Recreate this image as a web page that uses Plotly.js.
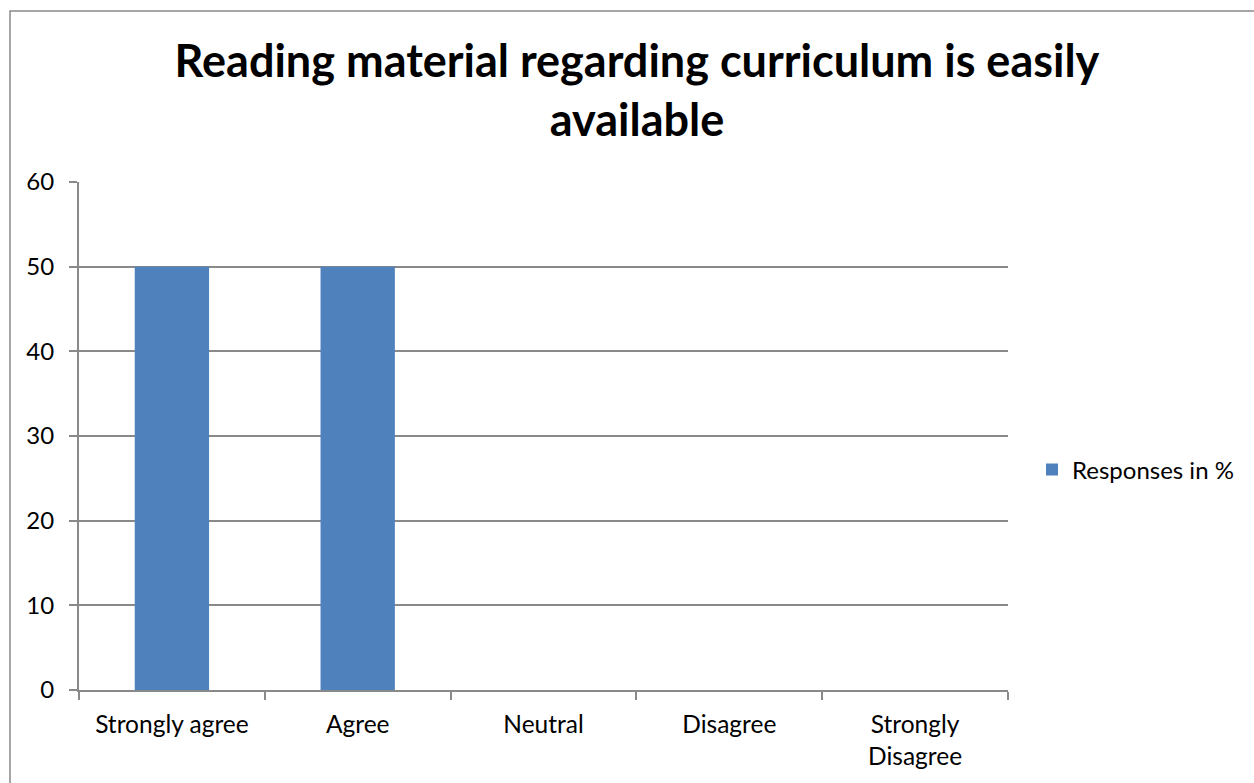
<!DOCTYPE html>
<html>
<head>
<meta charset="utf-8">
<script src="https://cdn.plot.ly/plotly-3.0.1.min.js"></script>
<style>
html,body{margin:0;padding:0;background:#fff;}
#chart{width:1254px;height:783px;}
</style>
</head>
<body>
<div id="chart"></div>
<script>
const categories = ["Strongly agree", "Agree", "Neutral", "Disagree", "Strongly<br>Disagree"];
const responses = [50, 50, 0, 0, 0];
const seriesName = "Responses in %";
const titleText = "Reading material regarding curriculum is easily<br>available";
const yTicks = [0, 10, 20, 30, 40, 50, 60];

const fontFam = "Lato, 'Open Sans', sans-serif";
const L = 79, R = 246, T = 182, B = 93;
const pw = 1254 - L - R, ph = 783 - T - B;
const lineCol = "#898989";

const data = [{
  type: "bar",
  x: categories,
  y: responses,
  name: seriesName,
  marker: {color: "#4F81BD"},
  width: 0.4,
  showlegend: true
}];

const layout = {
  width: 1254, height: 783,
  margin: {l: L, r: R, t: T, b: B, pad: 0},
  paper_bgcolor: "#fff", plot_bgcolor: "#fff",
  font: {family: fontFam, color: "#000", size: 24},
  title: {
    text: "<b>" + titleText + "</b>",
    font: {family: fontFam, size: 45, color: "#000"},
    x: 637/1254, xref: "container", xanchor: "center",
    y: 1 - 77/783, yref: "container", yanchor: "top"
  },
  xaxis: {
    type: "category",
    tickson: "boundaries",
    ticks: "outside", ticklen: 8, tickcolor: lineCol, tickwidth: 2,
    showline: true, linecolor: lineCol, linewidth: 2,
    showgrid: false, zeroline: false,
    tickfont: {size: 24.5, family: fontFam},
    ticklabelstandoff: 12,
    fixedrange: true
  },
  yaxis: {
    range: [0, 60],
    tickvals: yTicks,
    ticks: "outside", ticklen: 8, tickcolor: lineCol, tickwidth: 2,
    showline: true, linecolor: lineCol, linewidth: 2,
    showgrid: true, gridcolor: lineCol, gridwidth: 2,
    zeroline: false,
    tickfont: {size: 24, family: fontFam},
    ticklabelstandoff: 10,
    fixedrange: true
  },
  legend: {
    x: (1032 - L)/pw, xanchor: "left",
    y: (690 - 470)/ph, yanchor: "middle",
    font: {size: 24, family: fontFam},
    bgcolor: "rgba(0,0,0,0)",
    itemwidth: 30
  },
  shapes: [{
    type: "rect", xref: "paper", yref: "paper",
    x0: (10 - L)/pw, x1: (1300 - L)/pw,
    y0: (690 - 820)/ph, y1: (690 - 11)/ph,
    line: {color: lineCol, width: 1.5},
    fillcolor: "rgba(0,0,0,0)", layer: "below"
  }]
};

Plotly.newPlot("chart", data, layout, {displayModeBar: false, staticPlot: true});
</script>
</body>
</html>
